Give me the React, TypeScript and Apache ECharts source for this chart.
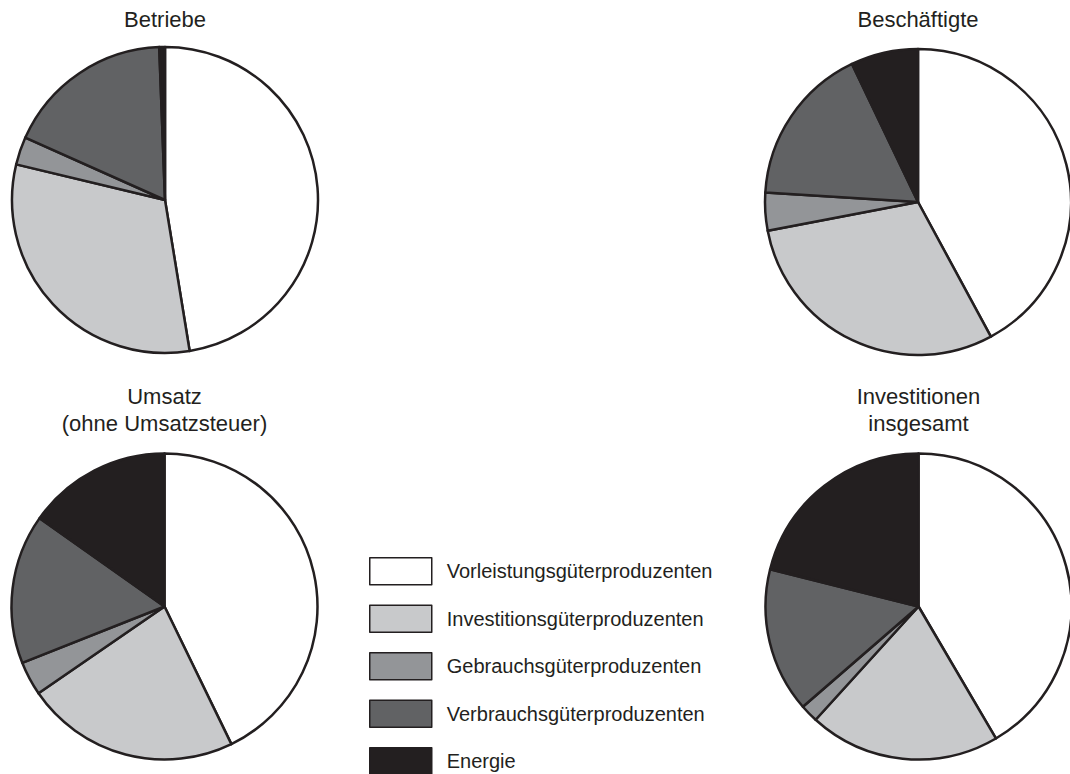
import React, { useEffect, useRef } from "react";
import * as echarts from "echarts";

const categories = [
  "Vorleistungsgüterproduzenten",
  "Investitionsgüterproduzenten",
  "Gebrauchsgüterproduzenten",
  "Verbrauchsgüterproduzenten",
  "Energie",
];
const colors = ["#ffffff", "#c8c9cb", "#939598", "#616264", "#231f20"];

const betriebe = [47.4, 31.3, 2.95, 17.7, 0.6];
const beschaeftigte = [42.1, 29.9, 4.0, 16.9, 7.1];
const umsatz = [42.8, 22.6, 3.6, 15.8, 15.2];
const investitionen = [41.6, 20.2, 1.9, 15.3, 21.1];

const panelTitles = ["Betriebe", "Beschäftigte", "Umsatz\n(ohne Umsatzsteuer)", "Investitionen\ninsgesamt"];
const panelValues = [betriebe, beschaeftigte, umsatz, investitionen];
const panelCenters: [number, number][] = [
  [165, 200],
  [918, 202],
  [164.5, 606.5],
  [918.5, 606.5],
];
const titleTops = [6, 6, 383, 383];

export default function App() {
  const ref = useRef<HTMLDivElement>(null);
  useEffect(() => {
    if (!ref.current) return;
    const chart = echarts.init(ref.current, undefined, { renderer: "svg" });
    const font = "'Liberation Sans', Arial, sans-serif";
    chart.setOption({
      animation: false,
      backgroundColor: "#ffffff",
      color: colors,
      title: panelTitles.map((t, i) => ({
        text: t,
        left: panelCenters[i][0],
        top: titleTops[i],
        textAlign: "center",
        padding: 0,
        textStyle: {
          fontFamily: font,
          fontSize: 22,
          fontWeight: "normal",
          color: "#231f20",
          lineHeight: 27,
        },
      })),
      legend: {
        orient: "vertical",
        left: 369,
        top: 557,
        padding: 0,
        height: 260,
        itemWidth: 62,
        itemHeight: 27,
        itemGap: 19,
        icon: "rect",
        selectedMode: false,
        data: categories,
        itemStyle: { borderColor: "#231f20", borderWidth: 1.5 },
        textStyle: {
          fontFamily: font,
          fontSize: 20,
          color: "#231f20",
          padding: [0, 0, 0, 10],
        },
      },
      series: panelValues.map((vals, i) => ({
        type: "pie",
        name: panelTitles[i],
        center: panelCenters[i],
        radius: 153,
        startAngle: 90,
        clockwise: true,
        silent: true,
        label: { show: false },
        labelLine: { show: false },
        emphasis: { disabled: true },
        itemStyle: { borderColor: "#231f20", borderWidth: 2.5 },
        data: categories.map((c, k) => ({ name: c, value: vals[k] })),
      })),
    });
    return () => chart.dispose();
  }, []);
  return (
    <div
      ref={ref}
      style={{ position: "fixed", left: 0, top: 0, width: 1070, height: 840 }}
    />
  );
}
